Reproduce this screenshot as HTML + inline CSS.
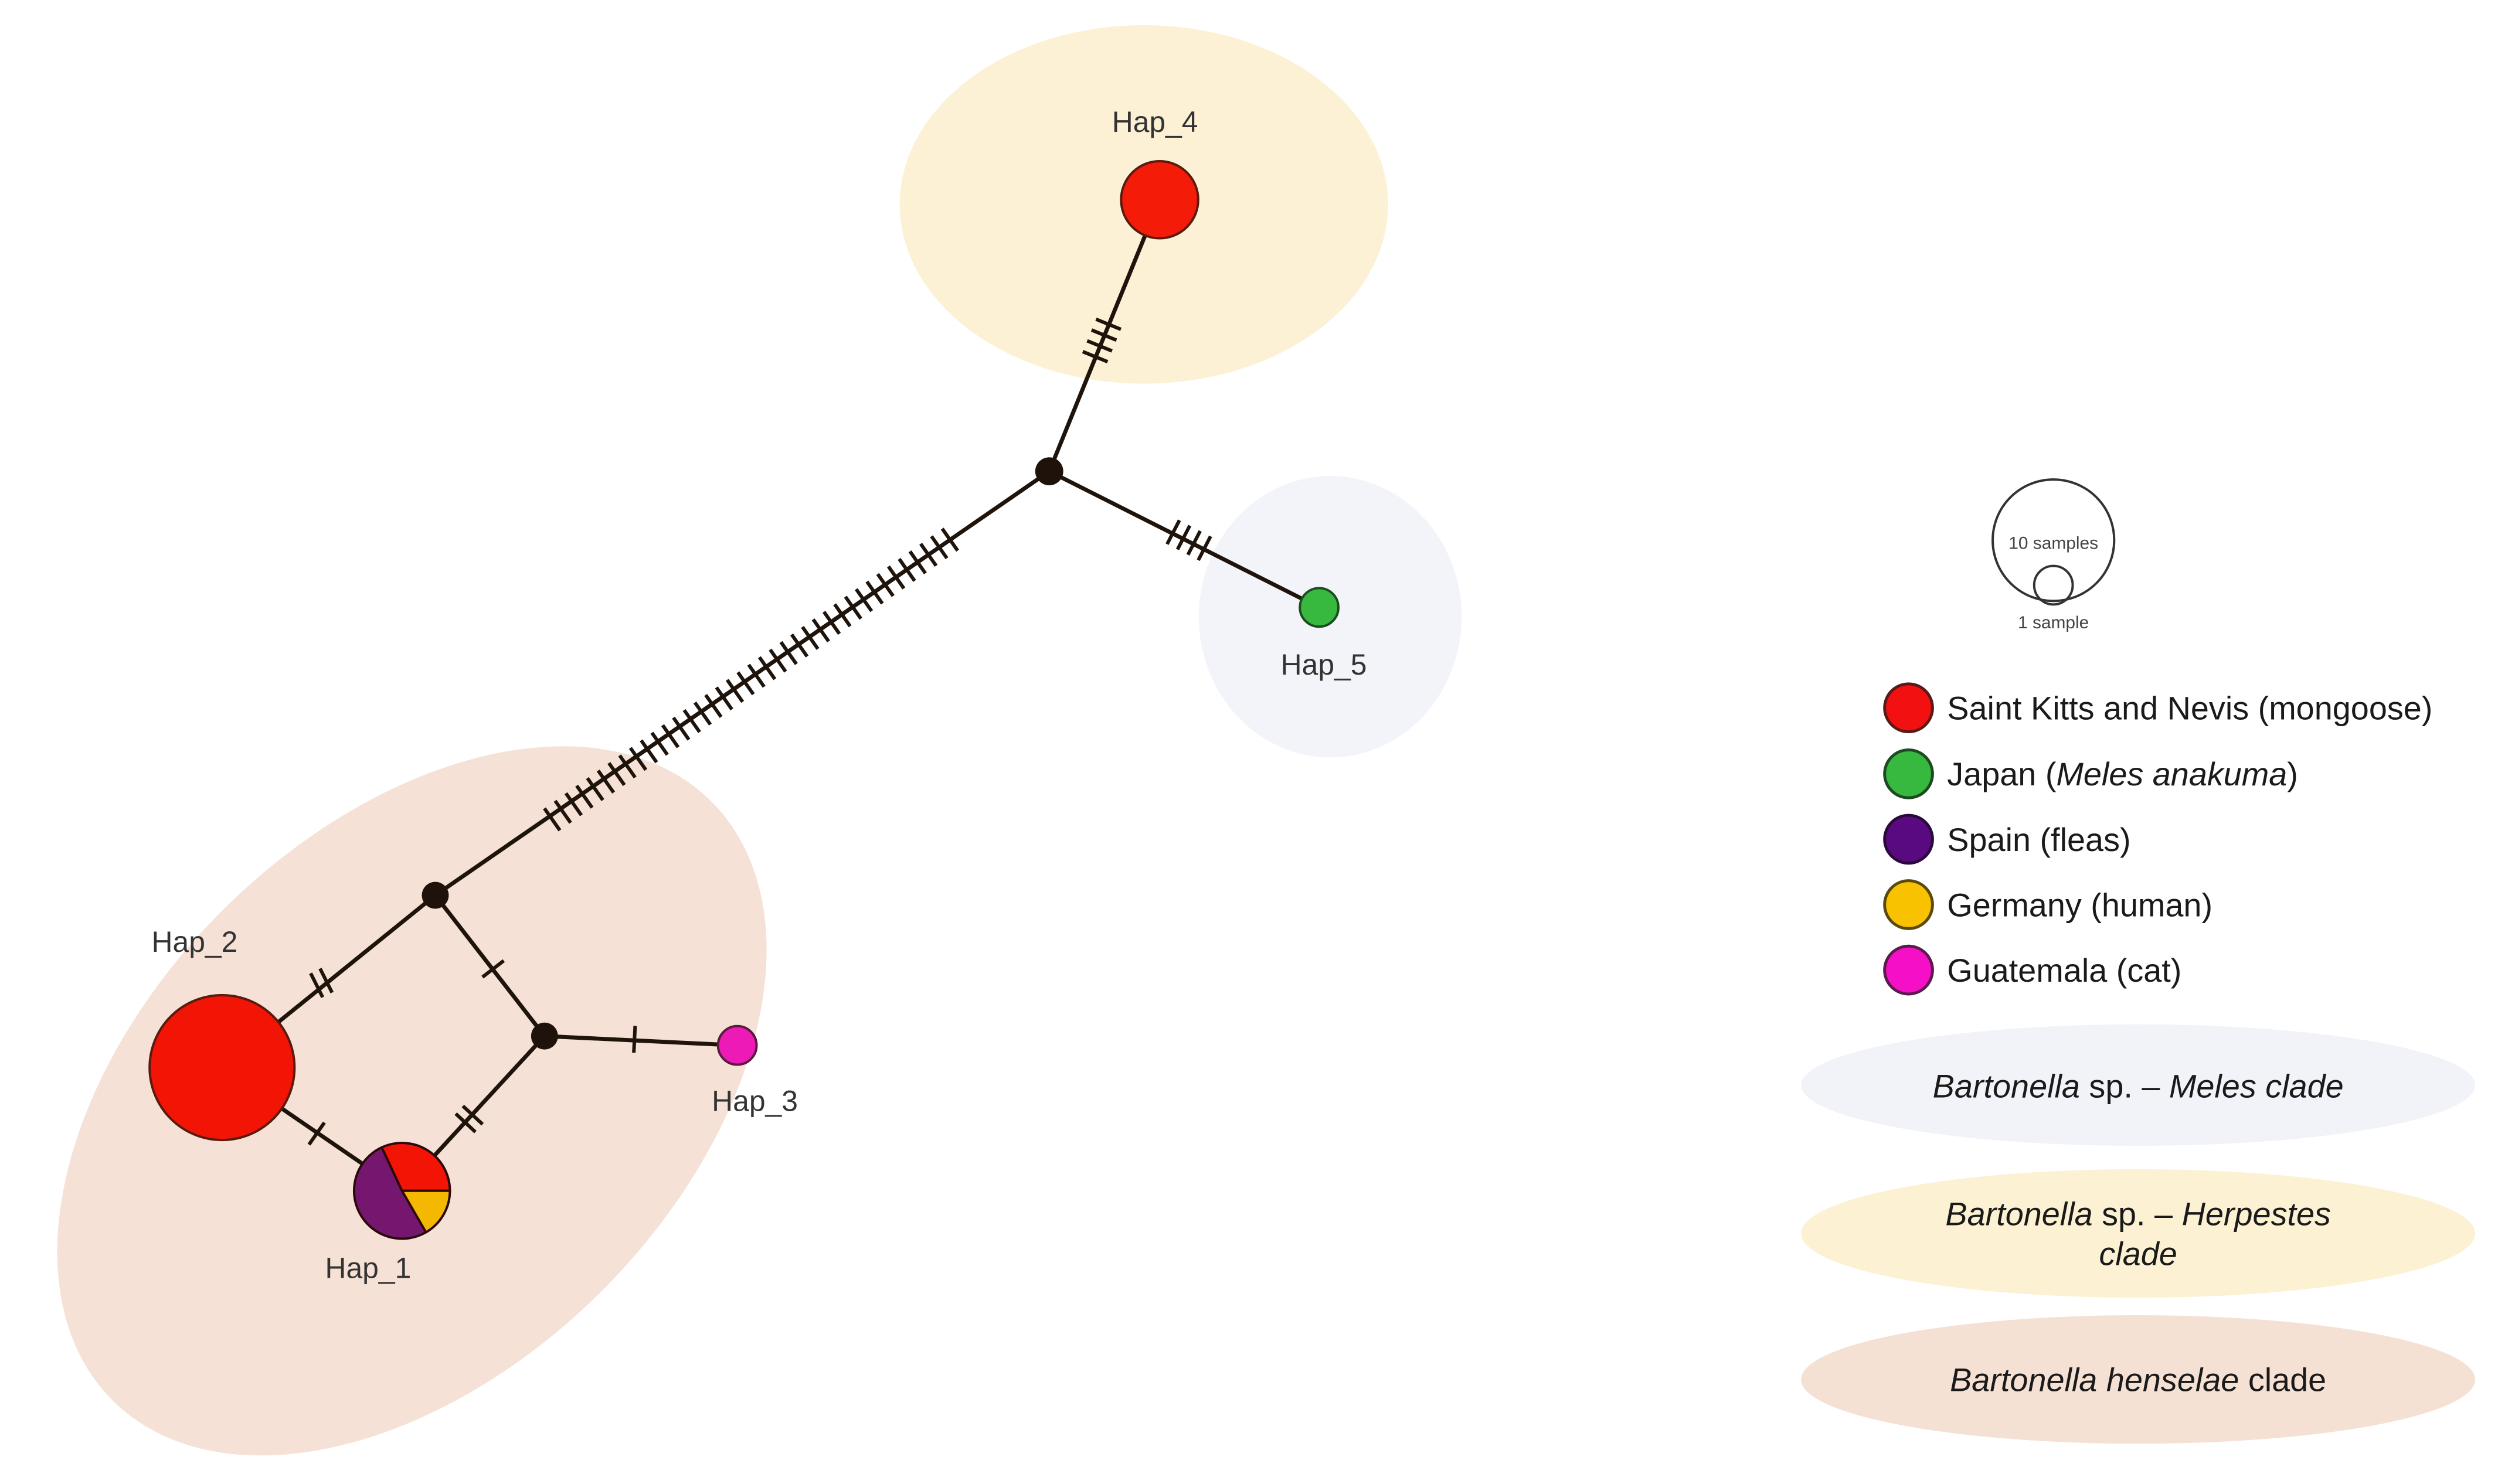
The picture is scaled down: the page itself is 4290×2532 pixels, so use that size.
<!DOCTYPE html>
<html><head><meta charset="utf-8"><style>
html,body{margin:0;padding:0;background:#fff;overflow:hidden;width:4290px;height:2532px;}
svg{display:block}
text{font-family:"Liberation Sans",sans-serif;}
</style></head><body>
<svg id="s" xmlns="http://www.w3.org/2000/svg" width="4290" height="2532" viewBox="0 0 4305 2541">
<rect width="4305" height="2541" fill="#fff"/>
<ellipse cx="1958" cy="350" rx="418" ry="307" fill="#fcf1d5"/>
<ellipse cx="2277" cy="1056" rx="225" ry="241" fill="#f3f4f9"/>
<ellipse cx="705" cy="1885" rx="725" ry="460" fill="#f5e1d5" transform="rotate(-45 705 1885)"/>
<g id="lines" stroke="#1e140c" stroke-width="7" fill="none" stroke-linecap="round">
<line x1="1985" y1="342" x2="1796" y2="807"/>
<line x1="1796" y1="807" x2="2258" y2="1040"/>
<line x1="1796" y1="807" x2="745" y2="1533"/>
<line x1="745" y1="1533" x2="380" y2="1828"/>
<line x1="745" y1="1533" x2="932" y2="1774"/>
<line x1="932" y1="1774" x2="1262" y2="1790"/>
<line x1="932" y1="1774" x2="688" y2="2039"/>
<line x1="380" y1="1828" x2="688" y2="2039"/>
</g>
<g id="ticks" stroke="#1e140c" stroke-width="6"></g>
<circle cx="1796" cy="807" r="24" fill="#1e120a"/>
<circle cx="745" cy="1533" r="23" fill="#1e120a"/>
<circle cx="932" cy="1774" r="23" fill="#1e120a"/>
<circle cx="1985" cy="342" r="66" fill="#f41c08" stroke="#5a1a10" stroke-width="4"/>
<circle cx="2258" cy="1040" r="33" fill="#36b93e" stroke="#1d4a20" stroke-width="4"/>
<circle cx="1262" cy="1790" r="33" fill="#ee1ab8" stroke="#5a1a40" stroke-width="4"/>
<ellipse cx="380" cy="1828" rx="124" ry="124" fill="#f21405" stroke="#5a1a10" stroke-width="4"/>
<g id="pie" stroke="#2a0a0a" stroke-width="4"></g>
<g font-size="50" fill="#333">
<text x="1977" y="226" text-anchor="middle">Hap_4</text>
<text x="2266" y="1155" text-anchor="middle">Hap_5</text>
<text x="333" y="1630" text-anchor="middle">Hap_2</text>
<text x="1292" y="1902" text-anchor="middle">Hap_3</text>
<text x="630" y="2188" text-anchor="middle">Hap_1</text>
</g>
<circle cx="3515" cy="925" r="104" fill="none" stroke="#333" stroke-width="4"/>
<circle cx="3515" cy="1002" r="33" fill="none" stroke="#333" stroke-width="4"/>
<text x="3515" y="940" font-size="30" text-anchor="middle" fill="#444">10 samples</text>
<text x="3515" y="1076" font-size="30" text-anchor="middle" fill="#444">1 sample</text>
<g stroke-width="5">
<circle cx="3267" cy="1212" r="41" fill="#f21010" stroke="#5a1a1a"/>
<circle cx="3267" cy="1325" r="41" fill="#36b93e" stroke="#1d4a20"/>
<circle cx="3267" cy="1437" r="41" fill="#5a0a80" stroke="#2a0a3a"/>
<circle cx="3267" cy="1549" r="41" fill="#f8c200" stroke="#5a4a10"/>
<circle cx="3267" cy="1661" r="41" fill="#f510c8" stroke="#5a1a4a"/>
</g>
<g font-size="56" fill="#1a1a1a">
<text x="3333" y="1232">Saint Kitts and Nevis (mongoose)</text>
<text x="3333" y="1345">Japan (<tspan font-style="italic">Meles anakuma</tspan>)</text>
<text x="3333" y="1457">Spain (fleas)</text>
<text x="3333" y="1569">Germany (human)</text>
<text x="3333" y="1681">Guatemala (cat)</text>
</g>
<ellipse cx="3660" cy="1858" rx="577" ry="104" fill="#f2f3f8"/>
<ellipse cx="3660" cy="2112" rx="577" ry="110" fill="#fcf1d3"/>
<ellipse cx="3660" cy="2362" rx="577" ry="110" fill="#f5e0d4"/>
<g font-size="56" fill="#1a1a1a" text-anchor="middle">
<text x="3660" y="1879"><tspan font-style="italic">Bartonella</tspan> sp. – <tspan font-style="italic">Meles clade</tspan></text>
<text x="3660" y="2098" font-style="italic"><tspan>Bartonella</tspan><tspan font-style="normal"> sp. – </tspan>Herpestes</text>
<text x="3660" y="2166" font-style="italic">clade</text>
<text x="3660" y="2382"><tspan font-style="italic">Bartonella henselae</tspan> clade</text>
</g>
</svg>
<script>
var NS="http://www.w3.org/2000/svg";
var g=document.getElementById('ticks');
function ticks(x1,y1,x2,y2,n,sp,len){
 var dx=x2-x1,dy=y2-y1,L=Math.hypot(dx,dy),ux=dx/L,uy=dy/L,px=-uy,py=ux;
 var cx=(x1+x2)/2,cy=(y1+y2)/2;
 for(var i=0;i<n;i++){var o=(i-(n-1)/2)*sp;var mx=cx+ux*o,my=cy+uy*o;
  var l=document.createElementNS(NS,'line');
  l.setAttribute('x1',mx+px*len/2);l.setAttribute('y1',my+py*len/2);
  l.setAttribute('x2',mx-px*len/2);l.setAttribute('y2',my-py*len/2);g.appendChild(l);}
}
ticks(935,1410,1636,917,38,22.5,46);
ticks(1866,632,1906,534,4,20,46);
ticks(2000,907,2070,943,4,20,46);
ticks(530,1693,570,1673,2,18,46);
ticks(834,1646,854,1672,1,1,46);
ticks(1076,1779,1096,1780,1,1,46);
ticks(790,1930,816,1902,2,18,46);
ticks(532,1934,552,1948,1,1,46);
var p=document.getElementById('pie');
var cx=688,cy=2039,r=82;
function sl(a0,a1,c){a0*=Math.PI/180;a1*=Math.PI/180;
 var x0=cx+r*Math.cos(a0),y0=cy+r*Math.sin(a0),x1=cx+r*Math.cos(a1),y1=cy+r*Math.sin(a1);
 var large=(a1-a0)>Math.PI?1:0;
 var e=document.createElementNS(NS,'path');
 e.setAttribute('d','M'+cx+' '+cy+'L'+x0+' '+y0+'A'+r+' '+r+' 0 '+large+' 1 '+x1+' '+y1+'Z');
 e.setAttribute('fill',c);p.appendChild(e);}
sl(-115,0,'#f21405');sl(0,60,'#f5b800');sl(60,245,'#76176f');
</script>
</body></html>
